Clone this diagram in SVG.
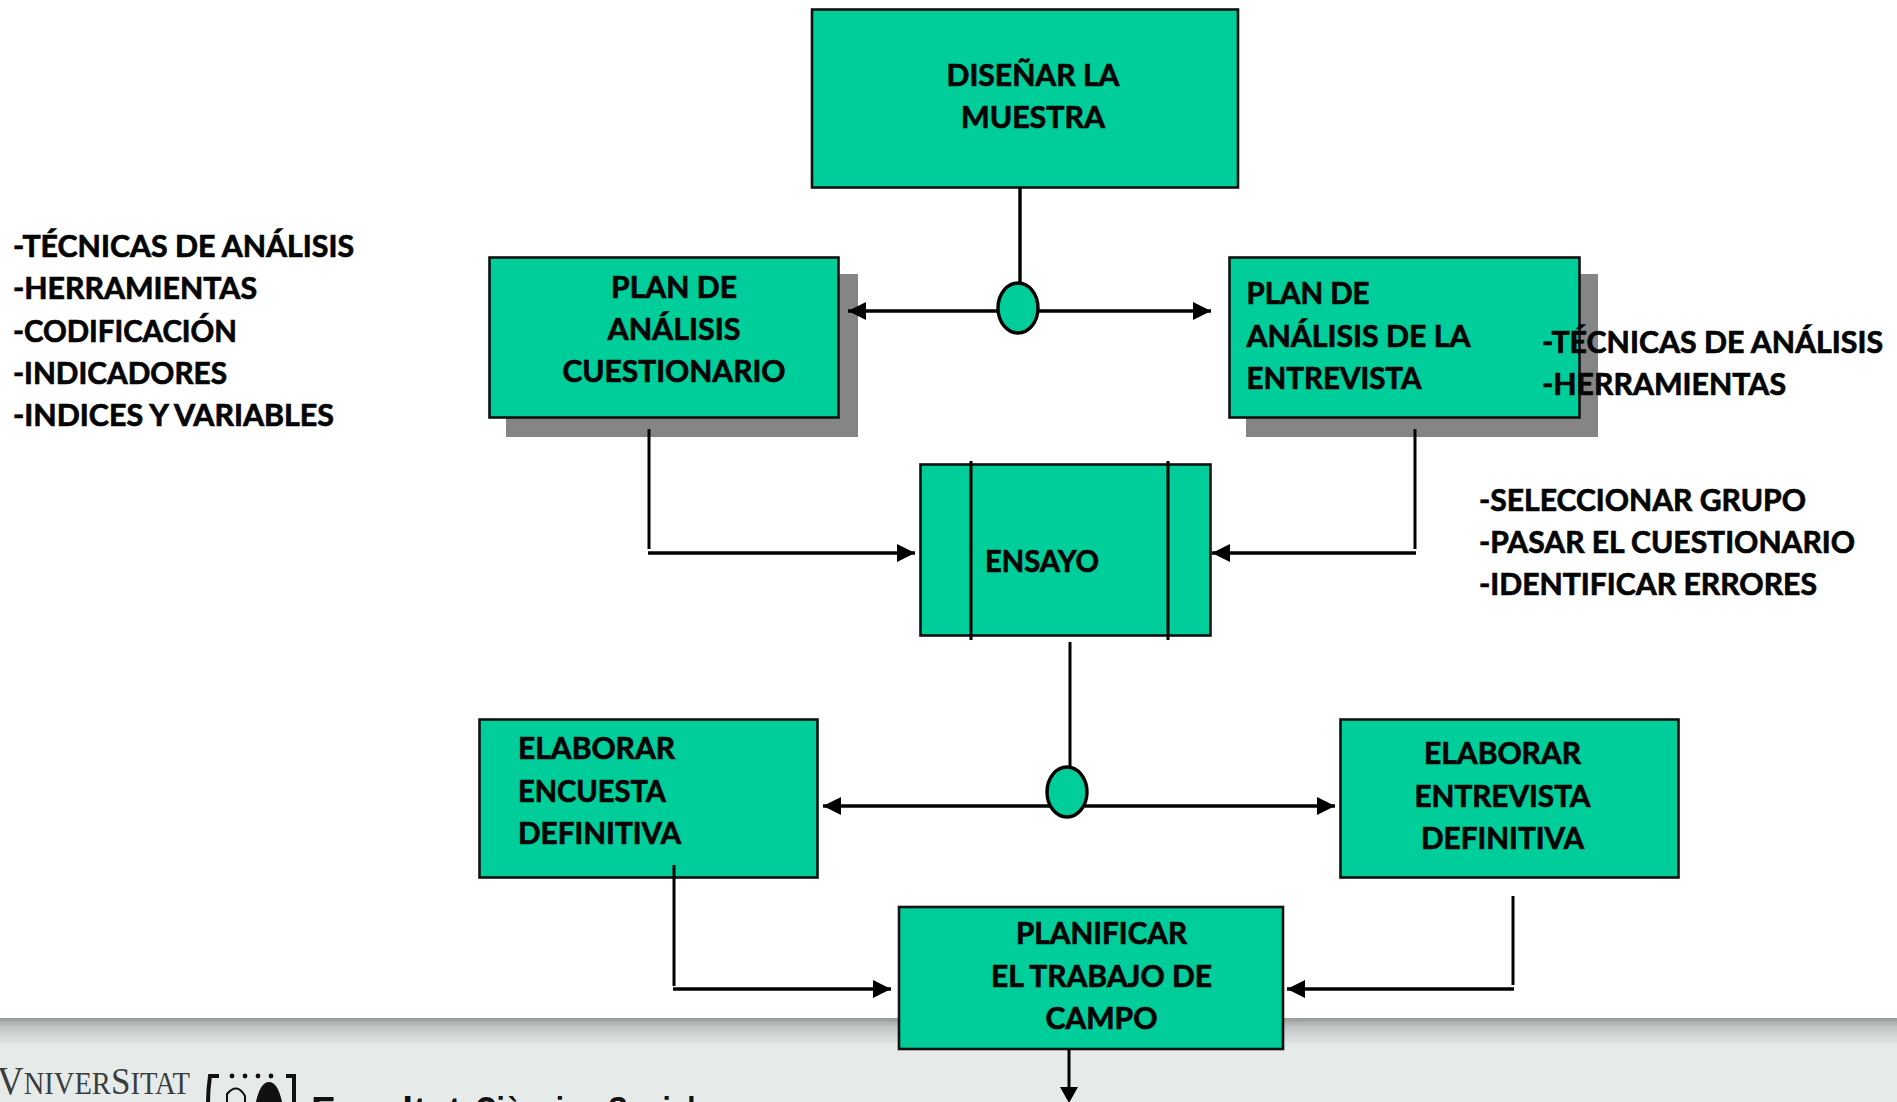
<svg xmlns="http://www.w3.org/2000/svg" width="1897" height="1102" viewBox="0 0 1897 1102">
<style>
.box{fill:#00CE9A;stroke:#111;stroke-width:2.6}
.shadow{fill:#858585}
.t{font-family:"Lato","Liberation Sans",sans-serif;font-weight:700;font-size:29.5px;fill:#050505;stroke:#050505;stroke-width:.7}
.m{text-anchor:middle}
.c{fill:none;stroke:#000;stroke-width:3}
.h{fill:none;stroke:#000;stroke-width:3.4}
.j{fill:#00CE9A;stroke:#000;stroke-width:3.4}
.f{font-family:"Liberation Sans",sans-serif;font-weight:700;font-size:36px;fill:#111}
</style>
<defs>
<linearGradient id="band" x1="0" y1="0" x2="0" y2="1">
<stop offset="0" stop-color="#989a99"/><stop offset="0.35" stop-color="#c3c8c6"/><stop offset="1" stop-color="#e6ebe9"/>
</linearGradient>
<marker id="arr" markerUnits="userSpaceOnUse" markerWidth="18" markerHeight="18" refX="18" refY="9" orient="auto"><path d="M0 0L18 9L0 18Z" fill="#000"/></marker>
</defs>
<rect width="1897" height="1102" fill="#fff"/>
<g id="footer">
<rect y="1018" width="1897" height="84" fill="#e6ebe9"/>
<rect y="1018" width="1897" height="28" fill="url(#band)"/>
<text x="-3" y="1094" font-family="Liberation Serif,serif" font-size="31" fill="#3a3d3d" textLength="193" lengthAdjust="spacingAndGlyphs"><tspan font-size="40">V</tspan>NIVER<tspan font-size="38">S</tspan>ITAT</text>
<g id="logo" fill="none" stroke="#111" stroke-width="4">
<path d="M219 1076H210Q208 1090 208 1102"/><path d="M286 1076H294V1102"/>
<path d="M227 1102V1094Q237 1082 245 1096V1102" stroke-width="2"/>
<path d="M258 1102Q262 1084 269 1084Q276 1084 280 1102Z" fill="#111"/>
<g fill="#111" stroke="none"><circle cx="232" cy="1076" r="2.4"/><circle cx="245" cy="1076" r="2.4"/><circle cx="258" cy="1076" r="2.4"/><circle cx="271" cy="1076" r="2.4"/></g>
</g>
<text class="f" x="311" y="1123" textLength="150" lengthAdjust="spacingAndGlyphs">Facultat</text>
<text class="f" x="475" y="1123" textLength="122" lengthAdjust="spacingAndGlyphs">Ciències</text>
<text class="f" x="608" y="1123" textLength="104" lengthAdjust="spacingAndGlyphs">Socials</text>
</g>
<g id="n-disenar"><rect class="box" x="812" y="9.500" width="426" height="178"/>
<text class="t m" x="1033" y="86" textLength="173" lengthAdjust="spacingAndGlyphs">DISEÑAR LA</text>
<text class="t m" x="1033" y="128" textLength="144" lengthAdjust="spacingAndGlyphs">MUESTRA</text></g>
<g id="n-cuestionario"><rect class="shadow" x="506" y="274" width="352" height="163"/><rect class="box" x="489.500" y="257.500" width="349" height="160"/>
<text class="t m" x="674" y="297.500" textLength="126" lengthAdjust="spacingAndGlyphs">PLAN DE</text>
<text class="t m" x="674" y="340" textLength="133" lengthAdjust="spacingAndGlyphs">ANÁLISIS</text>
<text class="t m" x="674" y="382" textLength="223" lengthAdjust="spacingAndGlyphs">CUESTIONARIO</text></g>
<g id="n-entrevista"><rect class="shadow" x="1246" y="274" width="352" height="163"/><rect class="box" x="1229.500" y="257.500" width="350" height="160"/>
<text class="t" x="1246.500" y="304" textLength="123" lengthAdjust="spacingAndGlyphs">PLAN DE</text>
<text class="t" x="1246.500" y="346.500" textLength="224" lengthAdjust="spacingAndGlyphs">ANÁLISIS DE LA</text>
<text class="t" x="1246.500" y="389" textLength="175" lengthAdjust="spacingAndGlyphs">ENTREVISTA</text></g>
<g id="n-ensayo"><rect class="box" x="920.500" y="464.500" width="290" height="171"/>
<path class="c" d="M971 461V640M1168 461V640"/>
<text class="t" x="985" y="572" textLength="114" lengthAdjust="spacingAndGlyphs">ENSAYO</text></g>
<g id="n-encuesta"><rect class="box" x="479.500" y="719.500" width="338" height="158"/>
<text class="t" x="518" y="759" textLength="157" lengthAdjust="spacingAndGlyphs">ELABORAR</text>
<text class="t" x="518" y="802" textLength="148" lengthAdjust="spacingAndGlyphs">ENCUESTA</text>
<text class="t" x="518" y="844" textLength="163" lengthAdjust="spacingAndGlyphs">DEFINITIVA</text></g>
<g id="n-entrevista-def"><rect class="box" x="1340.500" y="719.500" width="338" height="158"/>
<text class="t m" x="1502.500" y="764" textLength="157" lengthAdjust="spacingAndGlyphs">ELABORAR</text>
<text class="t m" x="1502.500" y="807" textLength="176" lengthAdjust="spacingAndGlyphs">ENTREVISTA</text>
<text class="t m" x="1502.500" y="849" textLength="163" lengthAdjust="spacingAndGlyphs">DEFINITIVA</text></g>
<g id="n-planificar"><rect class="box" x="899" y="907" width="384" height="142"/>
<text class="t m" x="1101.500" y="944" textLength="171" lengthAdjust="spacingAndGlyphs">PLANIFICAR</text>
<text class="t m" x="1101.500" y="987" textLength="221" lengthAdjust="spacingAndGlyphs">EL TRABAJO DE</text>
<text class="t m" x="1101.500" y="1029" textLength="112" lengthAdjust="spacingAndGlyphs">CAMPO</text></g>
<g id="connectors">
<path class="h" d="M1020 188V284"/>
<path class="h" marker-end="url(#arr)" d="M1000 311H848"/>
<path class="h" marker-end="url(#arr)" d="M1036 311H1211"/>
<path class="c" d="M649 429V549"/>
<path class="h" marker-end="url(#arr)" d="M648 553H915"/>
<path class="c" d="M1415 429V549"/>
<path class="h" marker-end="url(#arr)" d="M1416 553H1212"/>
<path class="c" d="M1070 642V768"/>
<path class="h" marker-end="url(#arr)" d="M1050 806H823"/>
<path class="h" marker-end="url(#arr)" d="M1085 806H1335"/>
<path class="c" d="M674 865V986"/>
<path class="h" marker-end="url(#arr)" d="M673 989H891"/>
<path class="c" d="M1513 896V985"/>
<path class="h" marker-end="url(#arr)" d="M1514 989H1287"/>
<path class="c" d="M1069 1049V1090"/>
<path d="M1060 1087H1078L1069 1103Z" fill="#000"/>
</g>
<g id="j1"><ellipse class="j" cx="1018" cy="308" rx="20" ry="25"/></g>
<g id="j2"><ellipse class="j" cx="1067" cy="792" rx="20" ry="25"/></g>
<g id="note-left">
<text class="t" x="13" y="256.500" textLength="341" lengthAdjust="spacingAndGlyphs">-TÉCNICAS DE ANÁLISIS</text>
<text class="t" x="13" y="298.500" textLength="244" lengthAdjust="spacingAndGlyphs">-HERRAMIENTAS</text>
<text class="t" x="13" y="341.500" textLength="224" lengthAdjust="spacingAndGlyphs">-CODIFICACIÓN</text>
<text class="t" x="13" y="383.500" textLength="214" lengthAdjust="spacingAndGlyphs">-INDICADORES</text>
<text class="t" x="13" y="425.500" textLength="321" lengthAdjust="spacingAndGlyphs">-INDICES Y VARIABLES</text>
</g>
<g id="note-right">
<text class="t" x="1542" y="352.500" textLength="341" lengthAdjust="spacingAndGlyphs">-TÉCNICAS DE ANÁLISIS</text>
<text class="t" x="1542" y="394.500" textLength="244" lengthAdjust="spacingAndGlyphs">-HERRAMIENTAS</text>
</g>
<g id="note-ensayo">
<text class="t" x="1479" y="510.500" textLength="327" lengthAdjust="spacingAndGlyphs">-SELECCIONAR GRUPO</text>
<text class="t" x="1479" y="553" textLength="376" lengthAdjust="spacingAndGlyphs">-PASAR EL CUESTIONARIO</text>
<text class="t" x="1479" y="595" textLength="338" lengthAdjust="spacingAndGlyphs">-IDENTIFICAR ERRORES</text>
</g>
</svg>
